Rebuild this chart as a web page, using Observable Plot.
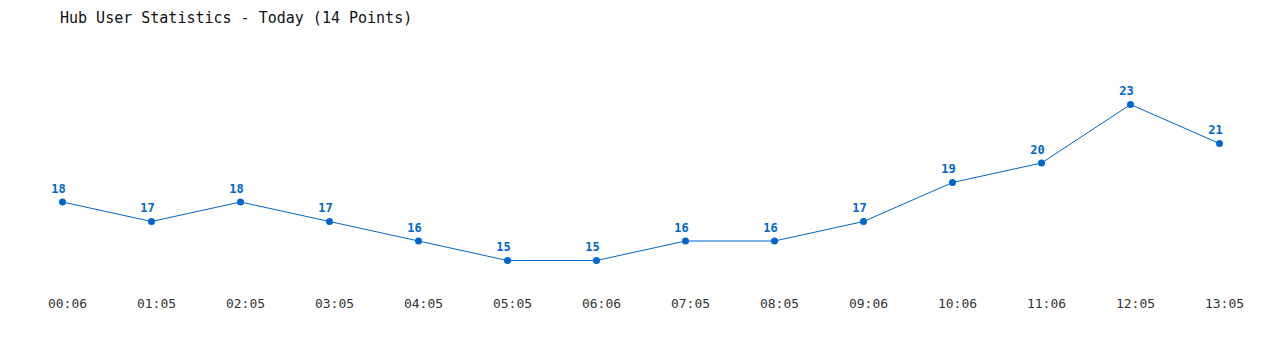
<!DOCTYPE html>
<html>
<head>
<meta charset="utf-8">
<script src="https://cdn.jsdelivr.net/npm/d3@7"></script>
<script src="https://cdn.jsdelivr.net/npm/@observablehq/plot@0.6"></script>
<style>
  html, body { margin: 0; padding: 0; background: #fff; }
  #title { font-family: "DejaVu Sans Mono", monospace; font-size: 15px; color: #111; height: 30px; line-height: 36px; padding-left: 60px; white-space: pre; }
</style>
</head>
<body>
<div id="title">Hub User Statistics - Today (14 Points)</div>
<div id="chart"></div>
<script>
const times = ["00:06","01:05","02:05","03:05","04:05","05:05","06:06","07:05","08:05","09:06","10:06","11:06","12:05","13:05"];
const users = [18,17,18,17,16,15,15,16,16,17,19,20,23,21];

const data = times.map((t, i) => ({time: t, users: users[i]}));
const blue = "#0066cc";

const chart = Plot.plot({
  width: 1280,
  height: 320,
  marginLeft: 61,
  marginRight: 60,
  marginTop: 74,
  marginBottom: 90,
  style: {fontFamily: "DejaVu Sans Mono, monospace", fontSize: "13px", color: "#333", background: "#fff"},
  x: {type: "point", domain: times, padding: 0, label: null},
  y: {domain: [15, 23], axis: null},
  marks: [
    Plot.axisX({tickSize: 0, tickPadding: 38, fontSize: 13, dx: 5, label: null}),
    Plot.line(data, {x: "time", y: "users", stroke: blue, strokeWidth: 1}),
    Plot.dot(data, {x: "time", y: "users", fill: blue, r: 3.5}),
    Plot.text(data, {x: "time", y: "users", text: d => String(d.users), dy: -13, dx: -4, fill: blue, fontWeight: "bold", fontSize: 12})
  ]
});
document.getElementById("chart").appendChild(chart);
</script>
</body>
</html>
